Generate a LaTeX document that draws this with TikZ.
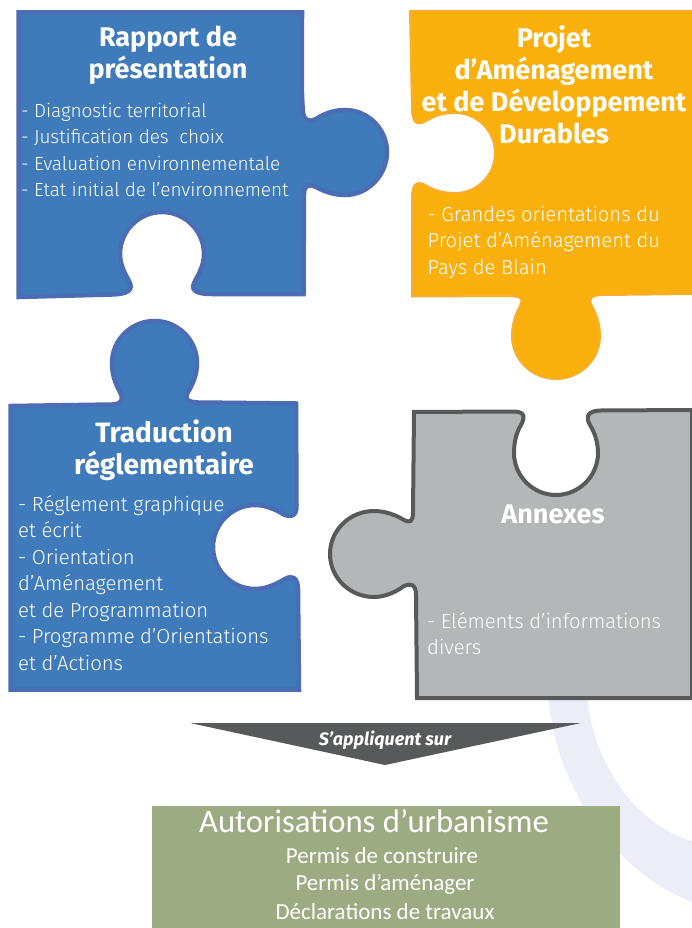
\documentclass[tikz,border=0pt]{standalone}
\usepackage{fontspec}
\setmainfont{Fira Sans}
\newfontfamily\bodyf[LetterSpace=-0.3]{Fira Sans Light}
\newfontfamily\titlef{Fira Sans}
\newfontfamily\calf{Carlito}
\definecolor{blueF}{HTML}{3F7BBB}
\definecolor{blueS}{HTML}{4A6DB3}
\definecolor{orF}{HTML}{FAB00C}
\definecolor{orS}{HTML}{F9AE30}
\definecolor{grF}{HTML}{B5B6B8}
\definecolor{grS}{HTML}{58595B}
\definecolor{ringC}{HTML}{EBEEF6}
\definecolor{greenF}{HTML}{9DAB83}
\tikzset{
  piece/.style={line width=4.5pt,line join=miter},
  bluepiece/.style={piece,fill=blueF,draw=blueS},
  orangepiece/.style={fill=orF,draw=orS,line width=2pt},
  greypiece/.style={piece,fill=grF,draw=grS,line width=4pt},
  titletext/.style={text=white,align=center,inner sep=0pt,font=\titlef\bfseries\fontsize{27}{32}\selectfont},
  bodytext/.style={text=white,align=left,inner sep=0pt,anchor=north west,font=\bodyf\fontsize{20.3}{26.5}\selectfont},
  smalltext/.style={text=white,inner sep=0pt,font=\calf\fontsize{23}{26}\selectfont}
}
\begin{document}
\begin{tikzpicture}[x=1pt,y=-1pt]
\useasboundingbox (0,0) rectangle (692,928);
\clip (0,0) rectangle (692,928);
% pale ring
\fill[ringC] (548,690) .. controls (552,780) and (610,870) .. (692,902) -- (692,841) .. controls (635,825) and (590,760) .. (587,690) -- cycle;
% piece 1
\path[bluepiece] (18.5,12.5) -- (302,12.5) .. controls (302,60) and (301,90) .. (303,112)
 .. controls (304,122) and (310,122) .. (316,119)
 .. controls (325,113) and (335,110) .. (345,110)
 .. controls (368,110) and (387,129) .. (387,152)
 .. controls (387,175) and (368,195) .. (345,195)
 .. controls (335,195) and (325,192) .. (316,187)
 .. controls (310,184) and (304,184) .. (304,194)
 -- (303.5,294) -- (212,294)
 .. controls (195,294) and (190,290) .. (195,281)
 .. controls (200,272) and (204,264) .. (204,254)
 .. controls (204,231) and (185,212) .. (162,212)
 .. controls (139,212) and (120,231) .. (120,254)
 .. controls (120,264) and (124,272) .. (129,281)
 .. controls (134,290) and (128,294) .. (112,294.5)
 -- (18.5,297) -- cycle;
% piece 2
\path[orangepiece] (410,11) -- (693,11) -- (693,294) -- (605,295)
 .. controls (590,295) and (588,299) .. (592,306)
 .. controls (597,315) and (600,325) .. (600,336)
 .. controls (600,360) and (580,379) .. (556,379)
 .. controls (532,379) and (512,360) .. (512,336)
 .. controls (512,325) and (515,315) .. (519,308)
 .. controls (524,298) and (522,296) .. (505,296)
 -- (412,296.5) -- (412,198)
 .. controls (412,183) and (417,180) .. (427,186)
 .. controls (436,191) and (445,193) .. (455,193)
 .. controls (477,193) and (495,175) .. (495,153)
 .. controls (495,131) and (477,113) .. (455,113)
 .. controls (445,113) and (436,115) .. (428,120)
 .. controls (418,126) and (413,125) .. (412,110)
 -- cycle;
% piece 3
\path[bluepiece] (10.5,406) -- (112,404.5)
 .. controls (122,404) and (124,400) .. (120,392)
 .. controls (115,383) and (112,374) .. (112,363)
 .. controls (112,340) and (131,321) .. (154.5,321)
 .. controls (178,321) and (197,340) .. (197,363)
 .. controls (197,374) and (193,384) .. (188,392)
 .. controls (184,399) and (187,402) .. (198,402.5)
 -- (296,403.5) -- (296.5,505)
 .. controls (297,516) and (291,518) .. (283,514)
 .. controls (275,509) and (265,505) .. (255,505)
 .. controls (232,505) and (213,524) .. (213,547)
 .. controls (213,570) and (232,589) .. (255,589)
 .. controls (265,589) and (275,585) .. (285,579)
 .. controls (292,575) and (298,577) .. (298,590)
 -- (299,689.5) -- (10.5,689.5) -- cycle;
% piece 4
\path[greypiece] (414,412) -- (510,411.5)
 .. controls (524,411) and (526,415) .. (521,425)
 .. controls (516,433) and (514,443) .. (514,453)
 .. controls (514,476) and (533,495) .. (556,495)
 .. controls (579,495) and (598,476) .. (598,453)
 .. controls (598,443) and (595,433) .. (590,425)
 .. controls (585,416) and (588,411) .. (600,410.5)
 -- (692,410) -- (692,698) -- (417,698) -- (416,595)
 .. controls (416,584) and (410,583) .. (404,586)
 .. controls (396,592) and (385,597) .. (374,597)
 .. controls (350,597) and (330,578) .. (330,554)
 .. controls (330,530) and (350,511) .. (374,511)
 .. controls (385,511) and (396,515) .. (404,520)
 .. controls (410,523) and (413,522) .. (413,512)
 -- cycle;
% arrow and box
\fill[grS] (190,723) -- (581,723) -- (385,765) -- cycle;
\fill[greenF] (152,806) rectangle (620,928);
% texts
\node[titletext] (t1) at (168,55.5) {Rapport de\\présentation};
\node[bodytext,font=\bodyf\fontsize{19}{26.5}\selectfont] (b1) at (21,102.5) {- Diagnostic territorial\\- Justification des~ choix\\- Evaluation environnementale\\- Etat initial de l’environnement};
\node[titletext] (t2) at (554,84.5) {Projet\\d’Aménagement\\et de Développement\\Durables};
\node[bodytext] (b2) at (427.5,206) {- Grandes orientations du\\Projet d’Aménagement du\\Pays de Blain};
\node[titletext,font=\titlef\bfseries\fontsize{28}{32}\selectfont] (t3) at (164,450) {Traduction\\réglementaire};
\node[bodytext] (b3) at (18,495) {- Réglement graphique\\et écrit\\- Orientation\\d’Aménagement\\et de Programmation\\- Programme d’Orientations\\et d’Actions};
\node[titletext] (t4) at (553,514) {Annexes};
\node[bodytext] (b4) at (427,612) {- Eléments d’informations\\divers};
\node[text=white,inner sep=0pt,font=\titlef\itshape\bfseries\fontsize{18}{20}\selectfont] (arrowlabel) at (385,740) {S’appliquent sur};
\node[text=white,inner sep=0pt,font=\calf\fontsize{32.7}{36}\selectfont] (boxtitle) at (374,821) {Autorisations d’urbanisme};
\node[smalltext] (l1) at (382,856) {Permis de construire};
\node[smalltext] (l2) at (385,884) {Permis d’aménager};
\node[smalltext] (l3) at (385,912) {Déclarations de travaux};
\end{tikzpicture}
\end{document}
